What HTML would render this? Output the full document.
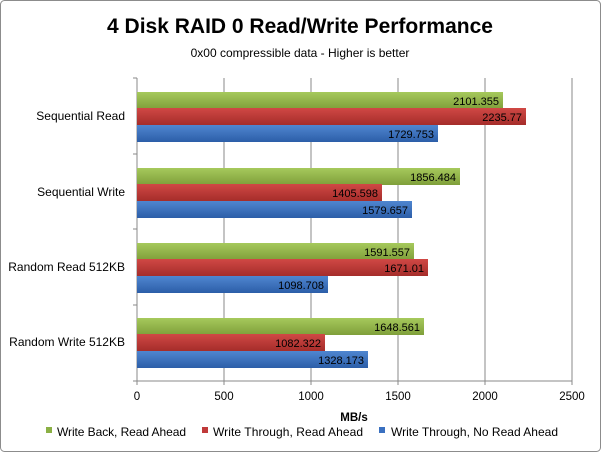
<!DOCTYPE html>
<html><head><style>
body{margin:0;background:#fff;}
svg text{font-family:"Liberation Sans",sans-serif;}
</style></head><body>
<svg width="601" height="452" viewBox="0 0 601 452" xmlns="http://www.w3.org/2000/svg">
<defs>
<linearGradient id="g" x1="0" y1="0" x2="0" y2="1"><stop offset="0" stop-color="#a6c95c"/><stop offset="1" stop-color="#7f9f3a"/></linearGradient>
<linearGradient id="r" x1="0" y1="0" x2="0" y2="1"><stop offset="0" stop-color="#d04845"/><stop offset="1" stop-color="#a52d2a"/></linearGradient>
<linearGradient id="b" x1="0" y1="0" x2="0" y2="1"><stop offset="0" stop-color="#4f86d0"/><stop offset="1" stop-color="#2c5ea8"/></linearGradient>
</defs>
<rect x="0.5" y="0.5" width="600" height="451" rx="4" fill="#fff" stroke="#8c8c8c"/>
<text x="300" y="33" font-size="21" font-weight="bold" text-anchor="middle" fill="#000">4 Disk RAID 0 Read/Write Performance</text>
<text x="300" y="57" font-size="12" text-anchor="middle" fill="#000">0x00 compressible data - Higher is better</text>
<g stroke="#888" stroke-width="1">
<line x1="224" y1="78" x2="224" y2="381"/><line x1="311" y1="78" x2="311" y2="381"/><line x1="398" y1="78" x2="398" y2="381"/><line x1="485" y1="78" x2="485" y2="381"/><line x1="572" y1="78" x2="572" y2="381"/>
<line x1="137" y1="78" x2="137" y2="381"/><line x1="137" y1="381" x2="572" y2="381"/>
<line x1="133" y1="78" x2="137" y2="78"/><line x1="133" y1="154" x2="137" y2="154"/><line x1="133" y1="229" x2="137" y2="229"/><line x1="133" y1="305" x2="137" y2="305"/><line x1="133" y1="381" x2="137" y2="381"/>
<line x1="224" y1="381" x2="224" y2="385"/><line x1="311" y1="381" x2="311" y2="385"/><line x1="398" y1="381" x2="398" y2="385"/><line x1="485" y1="381" x2="485" y2="385"/><line x1="572" y1="381" x2="572" y2="385"/><line x1="137" y1="381" x2="137" y2="385"/>
</g>
<g font-size="11" fill="#000" text-anchor="end">
<rect x="137" y="92" width="366" height="17" fill="url(#g)"/><text x="499" y="105">2101.355</text>
<rect x="137" y="108" width="389" height="17" fill="url(#r)"/><text x="522" y="121">2235.77</text>
<rect x="137" y="125" width="301" height="17" fill="url(#b)"/><text x="434" y="138">1729.753</text>
<rect x="137" y="168" width="323" height="17" fill="url(#g)"/><text x="456" y="181">1856.484</text>
<rect x="137" y="184" width="245" height="17" fill="url(#r)"/><text x="378" y="197">1405.598</text>
<rect x="137" y="201" width="275" height="17" fill="url(#b)"/><text x="408" y="214">1579.657</text>
<rect x="137" y="243" width="277" height="17" fill="url(#g)"/><text x="410" y="256">1591.557</text>
<rect x="137" y="259" width="291" height="17" fill="url(#r)"/><text x="424" y="272">1671.01</text>
<rect x="137" y="276" width="191" height="17" fill="url(#b)"/><text x="324" y="289">1098.708</text>
<rect x="137" y="318" width="287" height="17" fill="url(#g)"/><text x="420" y="331">1648.561</text>
<rect x="137" y="334" width="188" height="17" fill="url(#r)"/><text x="321" y="347">1082.322</text>
<rect x="137" y="351" width="231" height="17" fill="url(#b)"/><text x="364" y="364">1328.173</text>
</g>
<g font-size="12" fill="#000" text-anchor="end">
<text x="125" y="120">Sequential Read</text>
<text x="125" y="196">Sequential Write</text>
<text x="125" y="271">Random Read 512KB</text>
<text x="125" y="346">Random Write 512KB</text>
</g>
<g font-size="11.5" fill="#000" text-anchor="middle">
<text x="137" y="400">0</text><text x="224" y="400">500</text><text x="311" y="400">1000</text><text x="398" y="400">1500</text><text x="485" y="400">2000</text><text x="572" y="400">2500</text>
<text x="354" y="421" font-weight="bold">MB/s</text>
</g>
<g font-size="12" fill="#000">
<rect x="46" y="427" width="6" height="6" fill="#8bb045"/><text x="57" y="436" textLength="129">Write Back, Read Ahead</text>
<rect x="202" y="427" width="6" height="6" fill="#c0393a"/><text x="213" y="436" textLength="150">Write Through, Read Ahead</text>
<rect x="379" y="427" width="6" height="6" fill="#3a70c0"/><text x="391" y="436" textLength="167">Write Through, No Read Ahead</text>
</g>
</svg>
</body></html>
